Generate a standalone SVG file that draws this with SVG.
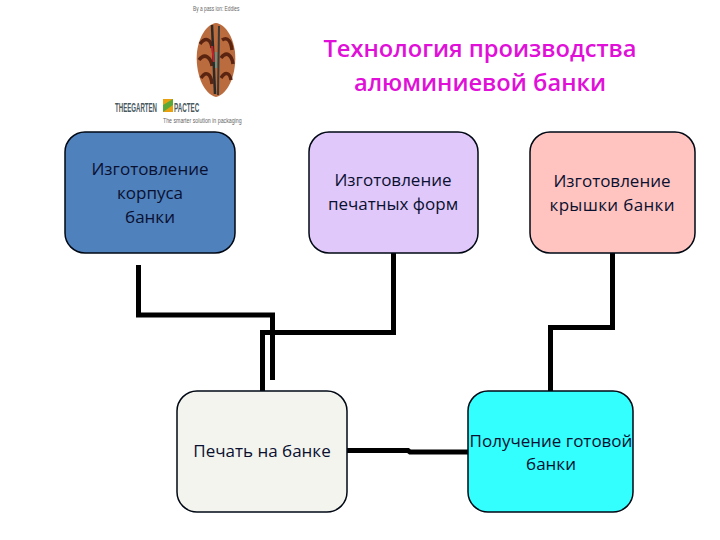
<svg xmlns="http://www.w3.org/2000/svg" width="720" height="540" viewBox="0 0 720 540">
<style>
.n{stroke:#000814;stroke-width:1.5}
.t{font-family:"Open Sans","Noto Sans",sans-serif;font-size:17px;fill:#0a1030;text-anchor:middle}
.h{font-family:"Open Sans","Noto Sans",sans-serif;font-size:23.7px;font-weight:600;fill:#e010d8;text-anchor:middle}
.c{fill:none;stroke:#000;stroke-width:5;stroke-linejoin:miter;stroke-linecap:butt}
.l{font-family:"Liberation Sans",sans-serif;fill:#666}
.b{font-family:"Liberation Sans",sans-serif;font-weight:700;fill:#4a5a60}
</style>
<rect width="720" height="540" fill="#fff"/>
<g id="logo">
<text class="l" transform="matrix(.69 0 0 1 193 11)" font-size="7">By a pass ion: Eddies</text>
<path d="M216 23C207 24 199 36 197 52C195 72 203 94 216 97C229 94 237 72 235 52C233 36 225 24 216 23Z" fill="#bb6c3e"/>
<path d="M200 44C206 36 211 40 212 48M199 60C205 52 211 58 212 66M201 78C206 70 211 74 212 84M222 40C228 36 231 42 232 50M221 58C227 50 232 56 233 64M221 78C226 70 230 74 231 80" fill="none" stroke="#5a2410" stroke-width="3.500"/>
<path d="M212 25L215 94" fill="none" stroke="#2b2a28" stroke-width="2.500"/>
<path d="M219 26L218 95" fill="none" stroke="#3b3a36" stroke-width="2"/>
<path d="M212 46L214 62" fill="none" stroke="#c8202a" stroke-width="2"/>
<path d="M216 52L216 68" fill="none" stroke="#4aa09a" stroke-width="1.500"/>
<text class="b" transform="matrix(.47 0 0 1 115 112)" font-size="13">THEEGARTEN</text>
<rect x="163" y="99" width="10" height="13" fill="#e8a010"/>
<path d="M163 112V105L173 99V105Z" fill="#5aa838"/>
<text class="b" transform="matrix(.48 0 0 1 174 112)" font-size="13">PACTEC</text>
<text class="l" transform="matrix(.75 0 0 1 163 123)" font-size="7">The smarter solution in packaging</text>
</g>
<g id="title">
<text class="h" x="480" y="57">Технология производства</text>
<text class="h" x="480" y="91">алюминиевой банки</text>
</g>
<g id="connectors">
<path class="c" d="M138.500 265V315H272.500V380"/>
<path class="c" d="M393.500 253V332.500H262.500V392"/>
<path class="c" d="M612.500 253V327.500H550.500V392"/>
<path class="c" d="M347 450.500H408L410 452H468"/>
</g>
<g id="node1">
<rect class="n" x="65" y="132" width="170" height="121" rx="20" fill="#4f81bd"/>
<text class="t" x="150" y="175">Изготовление</text>
<text class="t" x="150" y="199">корпуса</text>
<text class="t" x="150" y="223">банки</text>
</g>
<g id="node2">
<rect class="n" x="309" y="132" width="169" height="121" rx="20" fill="#e0c8fb"/>
<text class="t" x="393" y="186">Изготовление</text>
<text class="t" x="393" y="210">печатных форм</text>
</g>
<g id="node3">
<rect class="n" x="530" y="132" width="165" height="121" rx="20" fill="#ffc4c0"/>
<text class="t" x="612" y="187">Изготовление</text>
<text class="t" x="612" y="211" textLength="125" lengthAdjust="spacing">крышки банки</text>
</g>
<g id="node4">
<rect class="n" x="177" y="391" width="170" height="121" rx="20" fill="#f4f4ee"/>
<text class="t" x="262" y="457">Печать на банке</text>
</g>
<g id="node5">
<rect class="n" x="468" y="391" width="165" height="121" rx="20" fill="#33ffff"/>
<text class="t" x="551" y="447">Получение готовой</text>
<text class="t" x="551" y="470">банки</text>
</g>
</svg>
